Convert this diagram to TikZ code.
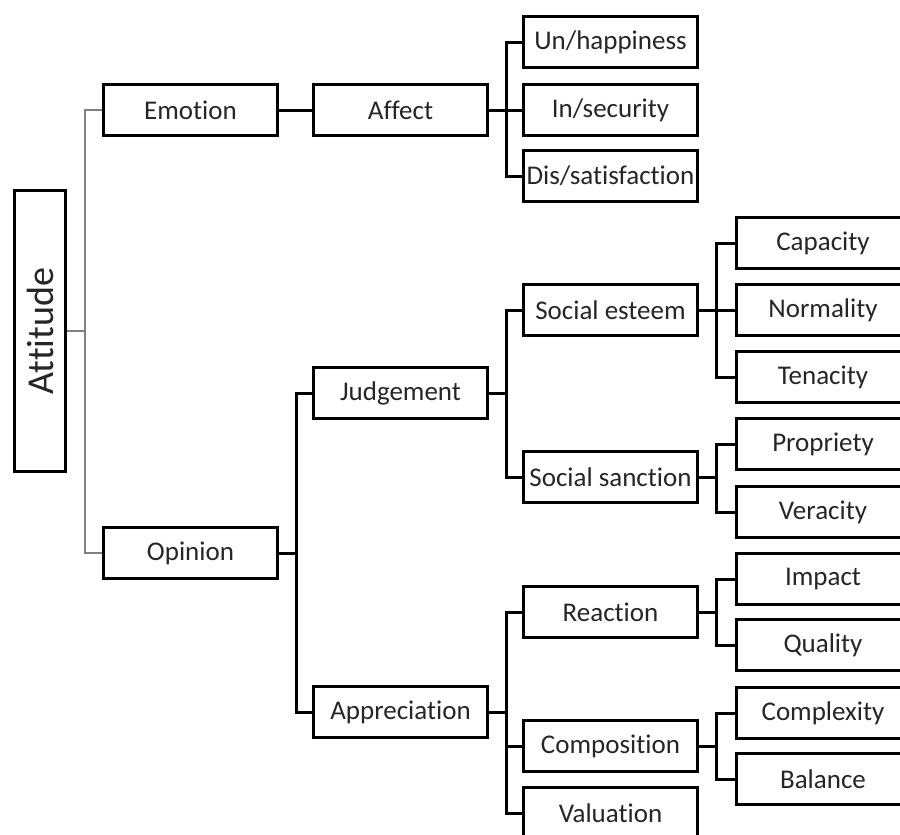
\documentclass[tikz,border=0pt]{standalone}
\usepackage{fontspec}
\setmainfont{Carlito}[RawFeature={-liga;-clig;-calt;-dlig;-rlig}]
\usetikzlibrary{positioning}
\begin{document}
\begin{tikzpicture}[x=1pt,y=-1pt,
  catbox/.style={draw=black, line width=3pt, fill=white, minimum width=174pt,
    minimum height=51pt, inner sep=0pt, text=black!85,
    font=\fontsize{27}{31}\selectfont},
  rootbox/.style={draw=black, line width=3pt, fill=white, minimum width=51pt,
    minimum height=281pt, inner sep=0pt, text=black!85},
  conn/.style={draw=black, line width=3pt},
  rootconn/.style={draw=black!50, line width=2pt}]
\useasboundingbox (0,0) rectangle (900,835);
\clip (0,0) rectangle (900,835);

% root
\node[rootbox] (att) at (40,331) {};
\node[rotate=90, text=black!85, font=\fontsize{38}{44}\selectfont] (attlabel) at (att.center) {Attitude};

% level 1
\node[catbox] (emo) at (190.5,110) {Emotion};
\node[catbox] (opi) at (190.5,553) {Opinion};

% level 2
\node[catbox] (aff) at (400.5,110) {Affect};
\node[catbox] (jud) at (400.5,393) {Judgement};
\node[catbox] (app) at (400.5,712) {Appreciation};

% level 3
\node[catbox] (unh) at (610.5,42) {Un/happiness};
\node[catbox] (ins) at (610.5,110) {In/security};
\node[catbox] (dis) at (610.5,176) {Dis/satisfaction};
\node[catbox] (ses) at (610.5,310) {Social esteem};
\node[catbox] (ssa) at (610.5,477) {Social sanction};
\node[catbox] (rea) at (610.5,612) {Reaction};
\node[catbox] (com) at (610.5,746) {Composition};
\node[catbox] (val) at (610.5,813) {Valuation};

% level 4
\node[catbox] (cap) at (823,243) {Capacity};
\node[catbox] (nor) at (823,310) {Normality};
\node[catbox] (ten) at (823,377) {Tenacity};
\node[catbox] (pro) at (823,444) {Propriety};
\node[catbox] (ver) at (823,512) {Veracity};
\node[catbox] (imp) at (823,579) {Impact};
\node[catbox] (qua) at (823,645) {Quality};
\node[catbox] (cplx) at (823,713) {Complexity};
\node[catbox] (bal) at (823,779) {Balance};

% root connectors
\draw[rootconn] (att.east) -- ++(18,0) |- (emo.west);
\draw[rootconn] (att.east) -- ++(18,0) |- (opi.west);

% elbow connectors
\draw[conn] (emo.east) -- (aff.west);
\foreach \c in {unh,ins,dis}
  \draw[conn] (aff.east) -- ++(17,0) |- (\c.west);
\foreach \c in {jud,app}
  \draw[conn] (opi.east) -- ++(17,0) |- (\c.west);
\foreach \c in {ses,ssa}
  \draw[conn] (jud.east) -- ++(17,0) |- (\c.west);
\foreach \c in {rea,com,val}
  \draw[conn] (app.east) -- ++(17,0) |- (\c.west);
\foreach \c in {cap,nor,ten}
  \draw[conn] (ses.east) -- ++(17,0) |- (\c.west);
\foreach \c in {pro,ver}
  \draw[conn] (ssa.east) -- ++(17,0) |- (\c.west);
\foreach \c in {imp,qua}
  \draw[conn] (rea.east) -- ++(17,0) |- (\c.west);
\foreach \c in {cplx,bal}
  \draw[conn] (com.east) -- ++(17,0) |- (\c.west);
\end{tikzpicture}
\end{document}
